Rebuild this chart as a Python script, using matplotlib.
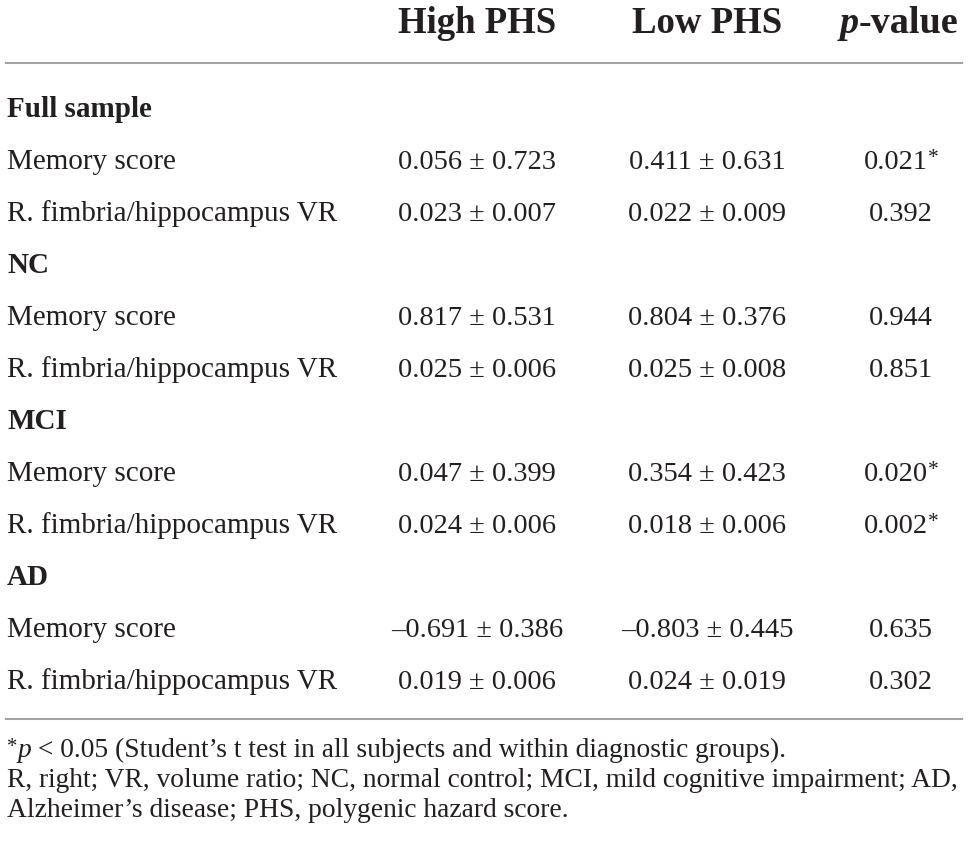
import matplotlib.pyplot as plt

# table content
columns = ["High PHS", "Low PHS", "p-value"]
groups = ["Full sample", "NC", "MCI", "AD"]
measures = ["Memory score", "R. fimbria/hippocampus VR"]

high_mean = [0.056, 0.023, 0.817, 0.025, 0.047, 0.024, -0.691, 0.019]
high_sd = [0.723, 0.007, 0.531, 0.006, 0.399, 0.006, 0.386, 0.006]
low_mean = [0.411, 0.022, 0.804, 0.025, 0.354, 0.018, -0.803, 0.024]
low_sd = [0.631, 0.009, 0.376, 0.008, 0.423, 0.006, 0.445, 0.019]
p_values = [0.021, 0.392, 0.944, 0.851, 0.020, 0.002, 0.635, 0.302]

footnote_1 = " < 0.05 (Student’s t test in all subjects and within diagnostic groups)."
footnote_2 = "R, right; VR, volume ratio; NC, normal control; MCI, mild cognitive impairment; AD,"
footnote_3 = "Alzheimer’s disease; PHS, polygenic hazard score."

W, H = 968, 847
TXT = "#231f20"
FONT = "Liberation Serif"

fig = plt.figure(figsize=(W / 100, H / 100), dpi=100)
ax = fig.add_axes([0, 0, 1, 1])
ax.set_xlim(0, W)
ax.set_ylim(H, 0)
ax.axis("off")
renderer = fig.canvas.get_renderer()


def fmt(v):
    return f"{v:.3f}".replace("-", "–")


def runs(x, y, parts, ha="left", size=17):
    # draw (text, weight, style, dy, scale) pieces one after another on a baseline
    widths = []
    artists = []
    for txt, weight, style, dy, sc in parts:
        t = ax.text(0, y + dy, txt, fontsize=size * sc, fontweight=weight,
                    fontstyle=style, family=FONT, color=TXT, va="baseline")
        bb = t.get_window_extent(renderer)
        widths.append(bb.width)
        artists.append(t)
    total = sum(widths)
    if ha == "center":
        x0 = x - total / 2
    elif ha == "right":
        x0 = x - total
    else:
        x0 = x
    for t, w in zip(artists, widths):
        t.set_x(x0)
        x0 += w


col_x = [477, 707, 901]
body = 21
vals = 20.5
head = 26.5
foot = 19.8

# header
ax.text(col_x[0], 33, columns[0], fontsize=head, fontweight="bold", family=FONT,
        color=TXT, ha="center", va="baseline")
ax.text(col_x[1], 33, columns[1], fontsize=head, fontweight="bold", family=FONT,
        color=TXT, ha="center", va="baseline")
runs(col_x[2] - 2, 33, [("p", "bold", "italic", 0, 1), ("-value", "bold", "normal", 0, 1)],
     ha="center", size=head * 1.04)

ax.plot([6, 962], [63, 63], color="#a3a3a3", lw=1.5)
ax.plot([6, 962], [719, 719], color="#a3a3a3", lw=1.5)

y = 117
step = 52
k = 0
for g in groups:
    ax.text(7, y, g, fontsize=body, fontweight="bold", family=FONT, color=TXT, va="baseline")
    y += step
    for m in measures:
        ax.text(7, y, m, fontsize=body, family=FONT, color=TXT, va="baseline")
        ax.text(col_x[0], y, f"{fmt(high_mean[k])} ± {fmt(high_sd[k])}", fontsize=vals,
                family=FONT, color=TXT, ha="center", va="baseline")
        ax.text(col_x[1], y, f"{fmt(low_mean[k])} ± {fmt(low_sd[k])}", fontsize=vals,
                family=FONT, color=TXT, ha="center", va="baseline")
        parts = [(fmt(p_values[k]), "normal", "normal", 0, 1)]
        if p_values[k] < 0.05:
            parts.append(("*", "normal", "normal", -6, 0.75))
        runs(col_x[2], y, parts, ha="center", size=vals)
        y += step
        k += 1

runs(7, 757, [("*", "normal", "normal", -5, 0.75), ("p", "normal", "italic", 0, 1),
              (footnote_1, "normal", "normal", 0, 1)], size=foot)
ax.text(7, 787, footnote_2, fontsize=foot, family=FONT, color=TXT, va="baseline")
ax.text(7, 817, footnote_3, fontsize=foot, family=FONT, color=TXT, va="baseline")

fig.savefig("out.png", dpi=100, facecolor="white")
